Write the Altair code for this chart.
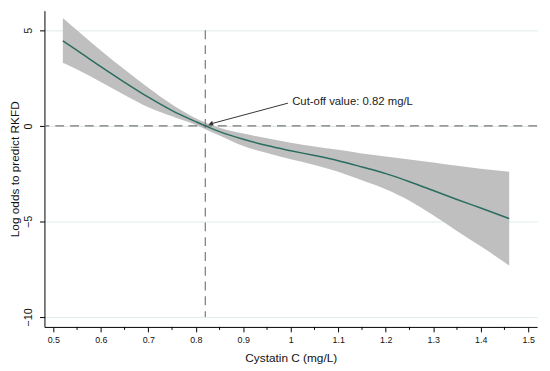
import altair as alt
import pandas as pd

# Cystatin C values (mg/L)
cys = [0.52, 0.55, 0.60, 0.65, 0.70, 0.75, 0.80, 0.82, 0.85, 0.90, 0.95, 1.00,
       1.05, 1.10, 1.15, 1.20, 1.25, 1.30, 1.35, 1.40, 1.46]
# Fitted log odds
fit = [4.45, 3.95, 3.10, 2.28, 1.50, 0.80, 0.22, 0.00, -0.30, -0.70, -1.03, -1.30,
       -1.55, -1.82, -2.15, -2.50, -2.92, -3.38, -3.85, -4.30, -4.85]
# 95% CI
upper = [5.65, 5.00, 3.95, 2.95, 2.00, 1.12, 0.40, 0.18, -0.10, -0.40, -0.65, -0.88,
         -1.08, -1.25, -1.44, -1.60, -1.76, -1.92, -2.09, -2.24, -2.40]
lower = [3.30, 2.95, 2.30, 1.62, 0.98, 0.50, 0.05, -0.17, -0.50, -1.05, -1.42, -1.75,
         -2.05, -2.40, -2.85, -3.32, -3.92, -4.68, -5.50, -6.30, -7.30]

cutoff = 0.82
label = "Cut-off value: 0.82 mg/L"
x_major = [0.5, 0.6, 0.7, 0.8, 0.9, 1.0, 1.1, 1.2, 1.3, 1.4, 1.5]
x_minor = [0.55, 0.65, 0.75, 0.85, 0.95, 1.05, 1.15, 1.25, 1.35, 1.45]
y_ticks = [-10, -5, 0, 5]

W, H = 500, 321

df = pd.DataFrame({"x": cys, "fit": fit, "lo": lower, "hi": upper})

xs = alt.Scale(domain=[0.4813, 1.5187], nice=False, zero=False)
ys = alt.Scale(domain=[-10.52, 6.03], nice=False, zero=False)

band = alt.Chart(df).mark_area(color="#bfbfbf", opacity=1, interpolate="monotone").encode(
    x=alt.X("x:Q", scale=xs,
            axis=alt.Axis(values=x_major, format=".1~f", title="Cystatin C (mg/L)",
                          grid=False, tickSize=5, labelFontSize=9, titleFontSize=12,
                          labelPadding=4, titlePadding=8)),
    y=alt.Y("lo:Q", scale=ys,
            axis=alt.Axis(values=y_ticks, title="Log odds to predict RKFD",
                          grid=True, gridColor="#e0eaea", tickSize=5,
                          labelAngle=-90, labelAlign="center", labelBaseline="bottom",
                          labelFontSize=11, titleFontSize=12, labelPadding=6,
                          titleX=-30, titleY=H / 2, titleAngle=-90,
                          titleAlign="center", titleBaseline="middle")),
    y2="hi:Q",
)

line = alt.Chart(df).mark_line(color="#2a6d60", strokeWidth=1.5, interpolate="monotone").encode(
    x=alt.X("x:Q", scale=xs), y=alt.Y("fit:Q", scale=ys))

hline = alt.Chart(pd.DataFrame({"y": [0]})).mark_rule(
    color="#777777", strokeDash=[9, 6], strokeWidth=1.2).encode(y=alt.Y("y:Q", scale=ys))

vline = alt.Chart(pd.DataFrame({"x": [cutoff], "y1": [5], "y2": [-10]})).mark_rule(
    color="#777777", strokeDash=[9, 6], strokeWidth=1.2).encode(
    x=alt.X("x:Q", scale=xs), y=alt.Y("y1:Q", scale=ys), y2="y2:Q")

arrow_df = pd.DataFrame({"x": [0.994], "y": [1.19], "x2": [0.829], "y2": [0.09]})
arrow = alt.Chart(arrow_df).mark_rule(color="#333333", strokeWidth=1).encode(
    x=alt.X("x:Q", scale=xs), y=alt.Y("y:Q", scale=ys), x2="x2:Q", y2="y2:Q")

head = alt.Chart(pd.DataFrame({"x": [0.833], "y": [0.12]})).mark_point(
    shape="triangle", filled=True, color="#333333", size=28, angle=255, opacity=1).encode(
    x=alt.X("x:Q", scale=xs), y=alt.Y("y:Q", scale=ys))

text = alt.Chart(pd.DataFrame({"x": [1.003], "y": [1.24], "t": [label]})).mark_text(
    align="left", baseline="middle", fontSize=11.5, color="#222222",
    font="Liberation Sans").encode(
    x=alt.X("x:Q", scale=xs), y=alt.Y("y:Q", scale=ys), text="t:N")

minor = alt.Chart(pd.DataFrame({"x": x_minor})).mark_rule(color="#000000", strokeWidth=1).encode(
    x=alt.X("x:Q", scale=xs), y=alt.value(H), y2=alt.value(H + 3))

chart = alt.layer(band, hline, vline, line, arrow, head, text, minor).properties(
    width=W, height=H,
    autosize=alt.AutoSizeParams(type="none"),
    padding={"left": 37, "top": 0, "right": 5, "bottom": 40},
).configure_view(stroke=None).configure_axis(
    domainColor="#000000", tickColor="#000000", labelColor="#111111",
    titleColor="#111111", labelFont="Liberation Sans", titleFont="Liberation Sans",
    titleFontWeight="normal",
)

chart.save("out.html", embed_options={"renderer": "svg", "actions": False})
